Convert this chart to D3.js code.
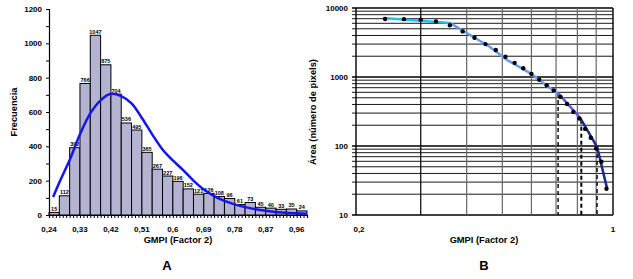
<!DOCTYPE html>
<html>
<head>
<meta charset="utf-8">
<script src="https://cdn.jsdelivr.net/npm/d3@7"></script>
<style>
  body { margin: 0; background: #fff; }
  svg { display: block; font-family: "Liberation Sans", Arial, sans-serif; }
</style>
</head>
<body>
<div id="chart"></div>
<script>
// ---- panel A: histogram ----
const binStart = [0.24, 0.27, 0.30, 0.33, 0.36, 0.39, 0.42, 0.45, 0.48, 0.51, 0.54, 0.57, 0.60,
                  0.63, 0.66, 0.69, 0.72, 0.75, 0.78, 0.81, 0.84, 0.87, 0.90, 0.93, 0.96];
const freq = [15, 112, 392, 766, 1047, 875, 704, 536, 495, 365, 267, 227, 196,
              152, 121, 126, 108, 96, 61, 73, 45, 40, 33, 35, 24];
const binWidth = 0.03;
const xTicksA = [0.24, 0.33, 0.42, 0.51, 0.6, 0.69, 0.78, 0.87, 0.96];
const yTicksA = [0, 200, 400, 600, 800, 1000, 1200];

// fitted curve
const curveX = [0.252, 0.27, 0.30, 0.33, 0.36, 0.39, 0.42, 0.45, 0.48, 0.51, 0.54, 0.57, 0.60,
                0.63, 0.66, 0.69, 0.72, 0.75, 0.78, 0.81, 0.84, 0.87, 0.90, 0.93, 0.96, 0.99];
const curveY = [105, 190, 320, 470, 592, 668, 706, 693, 650, 565, 470, 382, 318,
                262, 200, 148, 110, 82, 62, 46, 34, 25, 18, 13, 10, 7];

// ---- panel B: area vs threshold (log-log) ----
const areaX = binStart;
const areaY = [6911, 6896, 6784, 6392, 5626, 4579, 3704, 3000, 2464, 1969, 1604, 1337, 1110,
               914, 762, 641, 515, 407, 311, 250, 177, 132, 92, 59, 24];
const segments = [
  { x: [0.237, 0.36], y: [7160, 6064], color: "#1ec4e8" },
  { x: [0.36, 0.463, 0.515, 0.595, 0.683, 0.709], y: [6064, 2722, 1763, 1143, 660, 586], color: "#6a9cf2" },
  { x: [0.709, 0.814], y: [586, 255], color: "#6858e0" },
  { x: [0.814, 0.905, 0.963], y: [255, 97, 24.6], color: "#1c2c8e" }
];
const cutX = [0.709, 0.82, 0.905];
const cutY = [586, 240, 97];
const yTicksB = [10, 100, 1000, 10000];

const W = 633, H = 279;
const svg = d3.select("#chart").append("svg").attr("width", W).attr("height", H);
const comma = d3.formatLocale({ decimal: ",", thousands: ".", grouping: [3], currency: ["", ""] });
const fmt = v => comma.format("~g")(v);

// ===== A =====
const xA = d3.scaleLinear().domain([0.24, 0.99]).range([49, 307]);
const yA = d3.scaleLinear().domain([0, 1200]).range([215, 9]);
const gA = svg.append("g");

gA.selectAll("rect.bar")
  .data(freq)
  .join("rect")
  .attr("class", "bar")
  .attr("x", (d, i) => xA(binStart[i]))
  .attr("y", d => yA(d))
  .attr("width", (d, i) => xA(binStart[i] + binWidth) - xA(binStart[i]))
  .attr("height", d => yA(0) - yA(d))
  .attr("fill", "#b4b4d2")
  .attr("stroke", "#000")
  .attr("stroke-width", 1);

gA.selectAll("text.blab")
  .data(freq)
  .join("text")
  .attr("class", "blab")
  .attr("x", (d, i) => xA(binStart[i] + binWidth / 2))
  .attr("y", d => yA(d) - 1.5)
  .attr("text-anchor", "middle")
  .attr("font-size", 5.5)
  .attr("font-weight", "bold")
  .text(d => d);

const line = d3.line().x(d => xA(d[0])).y(d => yA(d[1])).curve(d3.curveCatmullRom);
gA.append("path")
  .datum(curveX.map((x, i) => [x, curveY[i]]))
  .attr("d", line)
  .attr("fill", "none")
  .attr("stroke", "#1414ee")
  .attr("stroke-width", 2.5);

// y axis
const yAxA = gA.append("g").attr("transform", "translate(49,0)")
  .call(d3.axisLeft(yA).tickValues(d3.range(0, 1201, 100)).tickSize(3)
    .tickFormat(d => yTicksA.includes(d) ? d : ""));
yAxA.select(".domain").attr("stroke-width", 1.2);
yAxA.selectAll("text").attr("font-size", 8).attr("font-weight", "bold").attr("dx", -1);

// x axis
const xAxA = gA.append("g").attr("transform", "translate(0,215)")
  .call(d3.axisBottom(xA).tickValues(d3.range(0, 76).map(i => 0.24 + i * 0.01)).tickSize(3).tickFormat(""));
xAxA.select(".domain").attr("stroke-width", 1.2);
gA.append("g").selectAll("text")
  .data(xTicksA)
  .join("text")
  .attr("x", d => xA(d))
  .attr("y", 232)
  .attr("text-anchor", "middle")
  .attr("font-size", 8)
  .attr("font-weight", "bold")
  .text(fmt);

gA.append("text").attr("x", 178).attr("y", 243).attr("text-anchor", "middle")
  .attr("font-size", 9.3).attr("font-weight", "bold").text("GMPI (Factor 2)");
gA.append("text").attr("transform", "translate(17,112) rotate(-90)").attr("text-anchor", "middle")
  .attr("font-size", 9.3).attr("font-weight", "bold").text("Frecuencia");
gA.append("text").attr("x", 167).attr("y", 270).attr("text-anchor", "middle")
  .attr("font-size", 13).attr("font-weight", "bold").text("A");

// ===== B =====
const xB = d3.scaleLog().domain([0.2, 1]).range([356, 613]);
const yB = d3.scaleLog().domain([10, 10000]).range([215, 8]);
const gB = svg.append("g");

const hLines = [];
[10, 100, 1000].forEach(dec => d3.range(1, 10).forEach(k => hLines.push(dec * k)));
hLines.push(10000);
gB.selectAll("line.h")
  .data(hLines)
  .join("line")
  .attr("class", "h")
  .attr("x1", 352).attr("x2", 613)
  .attr("y1", d => yB(d)).attr("y2", d => yB(d))
  .attr("stroke", "#000")
  .attr("stroke-width", d => yTicksB.includes(d) ? 1.6 : 0.9);

const vLines = [0.2, 0.3, 0.4, 0.5, 0.6, 0.7, 0.8, 0.9, 1];
gB.selectAll("line.v")
  .data(vLines)
  .join("line")
  .attr("class", "v")
  .attr("x1", d => xB(d)).attr("x2", d => xB(d))
  .attr("y1", 8).attr("y2", 215)
  .attr("stroke", d => (d === 0.2 || d === 1 || d === 0.3) ? "#000" : "#666")
  .attr("stroke-width", d => (d === 0.2 || d === 1) ? 1.4 : 1.2);

gB.selectAll("line.cut")
  .data(cutX)
  .join("line")
  .attr("class", "cut")
  .attr("x1", d => xB(d)).attr("x2", d => xB(d))
  .attr("y1", (d, i) => yB(cutY[i])).attr("y2", 215)
  .attr("stroke", "#000")
  .attr("stroke-width", (d, i) => i === 1 ? 2 : 1.4)
  .attr("stroke-dasharray", "4,3");

const lineB = d3.line().x(d => xB(d[0])).y(d => yB(d[1]));
gB.selectAll("path.seg")
  .data(segments)
  .join("path")
  .attr("class", "seg")
  .attr("d", s => lineB(s.x.map((x, i) => [x, s.y[i]])))
  .attr("fill", "none")
  .attr("stroke", s => s.color)
  .attr("stroke-width", 2.6);

gB.selectAll("circle")
  .data(areaY)
  .join("circle")
  .attr("cx", (d, i) => xB(areaX[i]))
  .attr("cy", d => yB(d))
  .attr("r", 2.2)
  .attr("fill", "#000");

gB.selectAll("text.yl")
  .data(yTicksB)
  .join("text")
  .attr("class", "yl")
  .attr("x", 348)
  .attr("y", d => yB(d) + 3)
  .attr("text-anchor", "end")
  .attr("font-size", 8)
  .attr("font-weight", "bold")
  .text(d => d);

gB.selectAll("text.xl")
  .data([0.2, 1])
  .join("text")
  .attr("class", "xl")
  .attr("x", d => xB(d) + (d === 0.2 ? 3 : 0))
  .attr("y", 232)
  .attr("text-anchor", "middle")
  .attr("font-size", 8)
  .attr("font-weight", "bold")
  .text(fmt);

gB.append("text").attr("x", 484).attr("y", 243).attr("text-anchor", "middle")
  .attr("font-size", 9.3).attr("font-weight", "bold").text("GMPI (Factor 2)");
gB.append("text").attr("transform", "translate(316,112) rotate(-90)").attr("text-anchor", "middle")
  .attr("font-size", 9.3).attr("font-weight", "bold").text("Área (número de pixels)");
gB.append("text").attr("x", 484).attr("y", 270).attr("text-anchor", "middle")
  .attr("font-size", 13).attr("font-weight", "bold").text("B");
</script>
</body>
</html>
